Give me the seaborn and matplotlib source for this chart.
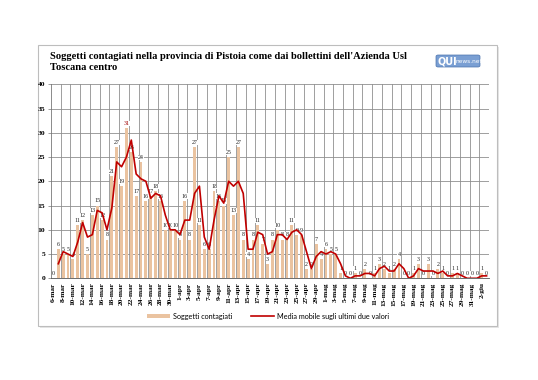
import numpy as np
import pandas as pd
import matplotlib
matplotlib.use("Agg")
import matplotlib.pyplot as plt
import seaborn as sns
from matplotlib.patches import Rectangle, Patch, FancyBboxPatch
from matplotlib.lines import Line2D

# giorni dal 6 marzo al 3 giugno 2020
mesi = {3: "mar", 4: "apr", 5: "mag", 6: "giu"}
giorni = [f"{d.day}-{mesi[d.month]}" for d in pd.date_range("2020-03-06", "2020-06-03")]

contagiati = [
    0, 6, 5, 5, 4, 11, 12, 5, 13, 15,
    12, 8, 21, 27, 19, 31, 26, 17, 24, 16,
    17, 18, 16, 10, 10, 10, 8, 16, 8, 27,
    11, 6, 6, 18, 16, 15, 25, 13, 27, 8,
    4, 8, 11, 7, 3, 8, 10, 8, 8, 11,
    9, 9, 2, 2, 7, 4, 6, 5, 5, 1,
    0, 0, 1, 0, 2, 0, 1, 3, 2, 1,
    2, 4, 0, 0, 1, 3, 0, 3, 0, 2,
    1, 0, 1, 1, 0, 0, 0, 0, 1, 0,
]

df = pd.DataFrame({"giorno": giorni, "contagiati": contagiati})
df["pos"] = np.arange(len(df))
# media mobile sugli ultimi due valori
df["media"] = df["contagiati"].rolling(2).mean()

W, H = 538, 380
fig = plt.figure(figsize=(W / 100, H / 100), dpi=100)
fig.patch.set_facecolor("white")

# cornice del grafico
fig.patches.append(Rectangle((40 / W, 1 - 328 / H), 459 / W, 281 / H, transform=fig.transFigure,
                             fill=True, fc="#e6e6e6", ec="none", zorder=-3))
fig.patches.append(Rectangle((38 / W, 1 - 326 / H), 459 / W, 281 / H, transform=fig.transFigure,
                             fill=True, fc="white", ec="#bdbdbd", lw=0.8, zorder=-2))

ax = fig.add_axes([51 / W, 1 - 278.3 / H, (489 - 51) / W, (278.3 - 84.3) / H])
ax.set_facecolor("none")

sns.barplot(data=df, x="giorno", y="contagiati", color="#eac3a0", saturation=1,
            width=0.6, ax=ax, zorder=2)
sns.lineplot(data=df, x="pos", y="media", sort=False, color="#c00000", linewidth=1.2,
             ax=ax, zorder=5)

serif = ["Liberation Serif", "DejaVu Serif"]
etichette = ax.bar_label(ax.containers[0], labels=[str(v) for v in contagiati], padding=1.5,
                         fontsize=4.3, family=serif, color="#222222", zorder=4,
                         bbox=dict(boxstyle="square,pad=0.02", fc="white", ec="none"))
imax = int(np.argmax(contagiati))
etichette[imax].set_color("#a00000")

ax.set_xlim(-0.5, len(df) - 0.5)
ax.set_ylim(0, 40)
ax.set_yticks(range(0, 41, 5))
ax.set_yticklabels([str(v) for v in range(0, 41, 5)], fontsize=5.4, family=serif, fontweight="bold")
ax.set_xticks(df["pos"][::2])
ax.set_xticklabels(df["giorno"][::2], rotation=90, fontsize=5.3, family=serif, fontweight="bold")
ax.set_xlabel("")
ax.set_ylabel("")

ax.grid(False)
for y in range(5, 41, 5):
    ax.axhline(y, color="#8f8f8f", lw=0.6, zorder=1)
for x in np.arange(1.5, len(df), 2):
    ax.axvline(x, color="#8f8f8f", lw=0.6, zorder=1)

for s in ["top", "right"]:
    ax.spines[s].set_visible(False)
ax.spines["left"].set_color("#777777")
ax.spines["left"].set_linewidth(0.6)
ax.spines["bottom"].set_color("#555555")
ax.spines["bottom"].set_linewidth(0.6)
ax.tick_params(axis="y", length=2, width=0.5, pad=2, color="#777777")
ax.tick_params(axis="x", length=0, pad=3)

fig.text(50 / W, 1 - 52 / H,
         "Soggetti contagiati nella provincia di Pistoia come dai bollettini dell'Azienda Usl\nToscana centro",
         ha="left", va="top", fontsize=7.6, family=serif, fontweight="bold", linespacing=1.3)

# logo
fig.patches.append(FancyBboxPatch((436 / W, 1 - 67 / H), 44 / W, 12 / H,
                                  boxstyle="round,pad=0,rounding_size=0.004",
                                  transform=fig.transFigure, fc="#7a9fd3", ec="#4b73ad", lw=0.5))
fig.text(438 / W, 1 - 61 / H, "QUI", ha="left", va="center", fontsize=7, fontweight="bold",
         color="white", family=["DejaVu Sans"])
fig.text(455 / W, 1 - 61.5 / H, "news.net", ha="left", va="center", fontsize=4.2, color="white",
         family=["DejaVu Sans"])

handles = [Patch(fc="#eac3a0", ec="none"), Line2D([], [], color="#c00000", lw=1.2)]
fig.legend(handles, ["Soggetti contagiati", "Media mobile sugli ultimi due valori"],
           loc="center", bbox_to_anchor=(268 / W, 1 - 316 / H), ncol=2, frameon=False,
           prop={"family": ["Lato", "DejaVu Sans"], "size": 5.2}, handlelength=3.2,
           handleheight=0.5, columnspacing=2.5, handletextpad=0.5)

fig.savefig("out.png", dpi=100)
